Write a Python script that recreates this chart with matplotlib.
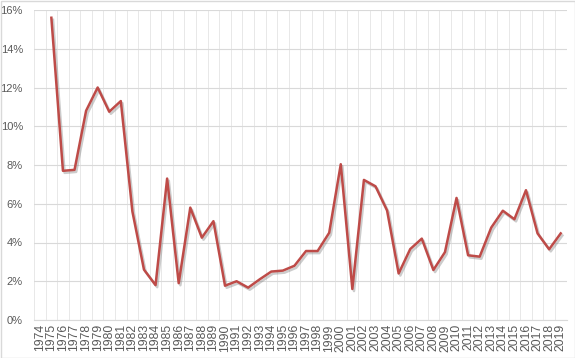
import matplotlib
matplotlib.use("Agg")
import matplotlib.pyplot as plt
import matplotlib.patheffects as pe
from matplotlib.ticker import FuncFormatter, MultipleLocator
import numpy as np

years = [str(y) for y in range(1974, 2020)]
values = [np.nan, 15.6, 7.7, 7.75, 10.8, 12.0, 10.75, 11.3, 5.6, 2.6,
          1.8, 7.3, 1.9, 5.8, 4.25, 5.1, 1.77, 2.0, 1.67, 2.1,
          2.5, 2.55, 2.8, 3.56, 3.56, 4.5, 8.04, 1.6, 7.23, 6.9,
          5.65, 2.4, 3.66, 4.2, 2.58, 3.5, 6.3, 3.34, 3.27, 4.77,
          5.64, 5.2, 6.7, 4.47, 3.65, 4.47]

plt.rcParams['font.family'] = ['Liberation Sans', 'DejaVu Sans']

fig = plt.figure(figsize=(5.75, 3.58), dpi=100)
ax = fig.add_axes([34/575, 38/358, 532.5/575, 310/358])

x = np.arange(len(years))
ax.plot(x, values, color='#BE4B48', lw=1.8, solid_joinstyle='round',
        path_effects=[pe.SimpleLineShadow(offset=(1.2, -1.5), shadow_color='#808080', alpha=0.4),
                      pe.Normal()])

ax.set_xlim(-0.5, len(years) - 0.5)
ax.set_ylim(0, 16)
ax.yaxis.set_major_locator(MultipleLocator(2))
ax.yaxis.set_major_formatter(FuncFormatter(lambda v, p: f"{int(v)}%"))
ax.set_xticks(x)
ax.set_xticklabels(years, rotation=90)
ax.set_xticks(np.arange(len(years) + 1) - 0.5, minor=True)

ax.grid(axis='y', which='major', color='#D9D9D9', lw=0.8)
ax.grid(axis='x', which='minor', color='#E8E8E8', lw=0.7)
ax.set_axisbelow(True)

for s in ['top', 'right', 'left']:
    ax.spines[s].set_visible(False)
ax.spines['bottom'].set_color('#D9D9D9')
ax.tick_params(axis='both', which='both', length=0, colors='#595959')
ax.tick_params(axis='y', labelsize=8, pad=8)
ax.tick_params(axis='x', labelsize=8.8, pad=3)

fig.patches.append(plt.Rectangle((0.5/575, 0.5/358), 574/575, 357/358, transform=fig.transFigure,
                                 fill=False, edgecolor='#D9D9D9', lw=1))

fig.savefig('out.png', dpi=100)
